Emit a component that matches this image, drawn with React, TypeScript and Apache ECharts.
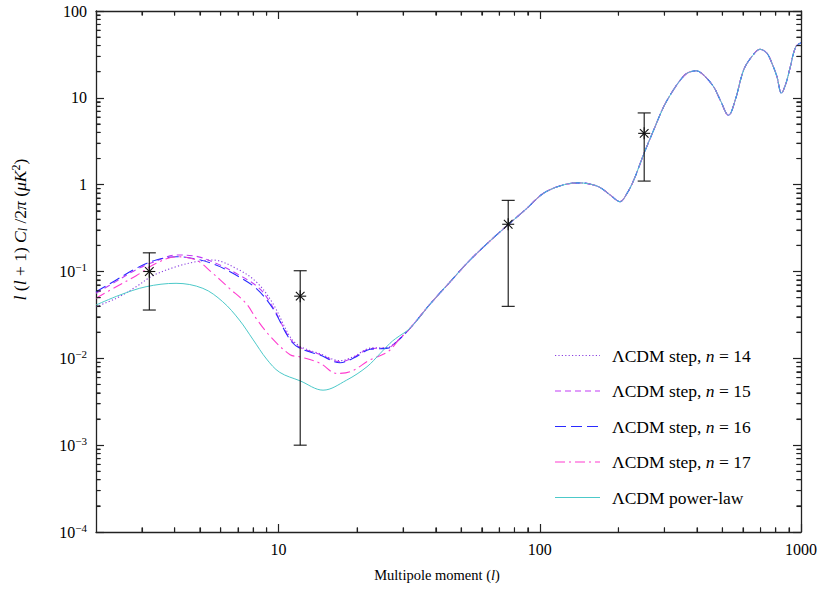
import React, { useEffect, useRef } from "react";
import * as echarts from "echarts";

const SERIF = "Liberation Serif";

// Shared high-l part of all model curves [l, l(l+1)Cl/2pi]
const commonHighL: number[][] = [
  [32, 0.0225], [38, 0.042], [45, 0.074], [54, 0.135], [65, 0.23], [76, 0.35],
  [89, 0.53], [103, 0.79], [120, 0.97], [139, 1.05], [155, 1.02], [170, 0.93],
  [186, 0.76], [203, 0.637], [215, 0.78], [229, 1.13], [250, 2.25], [275, 4.5],
  [298, 7.9], [320, 11.5], [345, 16], [365, 19.1], [397, 20.5], [424, 18.3],
  [463, 13.4], [491, 9.4], [528, 6.3], [560, 9.4], [603, 20.9], [648, 29.8],
  [698, 36.2], [741, 32.6], [774, 25], [809, 17.5], [841, 11.3], [876, 14.7],
  [910, 22.8], [955, 38.8], [1000, 43],
];

const n14Low: number[][] = [
  [2, 0.0393], [2.39, 0.0491], [2.85, 0.0668], [3.3, 0.0894], [4.05, 0.1135],
  [4.83, 0.1296], [5.6, 0.1356], [6.87, 0.1088], [8.2, 0.0763], [9.5, 0.043],
  [11.07, 0.0177], [12.1, 0.0137], [14.4, 0.0113], [17.2, 0.0094], [19.3, 0.0104],
  [22.4, 0.0131], [26.2, 0.0134], [28, 0.0152],
];
const n15Low: number[][] = [
  [2, 0.0561], [2.39, 0.077], [2.85, 0.105], [3.4, 0.132], [4.05, 0.1548],
  [4.83, 0.15], [5.76, 0.1242], [6.87, 0.0953], [8.44, 0.064], [9.5, 0.039],
  [11.07, 0.0168], [12.1, 0.0133], [14.4, 0.0111], [17.2, 0.0091], [19.3, 0.0102],
  [22.4, 0.0129], [26.2, 0.0132], [28, 0.0151],
];
const n16Low: number[][] = [
  [2, 0.0585], [2.39, 0.0798], [2.85, 0.1088], [3.4, 0.1356], [4.05, 0.148],
  [4.83, 0.1393], [5.76, 0.1188], [6.87, 0.0911], [8.2, 0.064], [9.5, 0.0377],
  [11.07, 0.0163], [12.1, 0.013], [14.4, 0.0109], [17.2, 0.0089], [19.3, 0.01],
  [22.4, 0.0127], [26.2, 0.0131], [28, 0.015],
];
const n17Low: number[][] = [
  [2, 0.0491], [2.39, 0.0668], [2.85, 0.0894], [3.4, 0.1242], [4.05, 0.148],
  [4.83, 0.1356], [5.51, 0.0995], [6.48, 0.064], [7.51, 0.043], [8.2, 0.0289],
  [9.28, 0.018], [11.07, 0.011], [12.1, 0.0104], [14.4, 0.0088], [16.7, 0.0067],
  [18.8, 0.007], [22.4, 0.0096], [26.2, 0.0119], [29.2, 0.017],
];
const powerLawLow: number[][] = [
  [2, 0.0411], [2.47, 0.0536], [3.11, 0.0668], [4.05, 0.0731], [5.13, 0.064],
  [6.11, 0.0449], [7.08, 0.0276], [8.0, 0.0163], [9.0, 0.0098], [10.1, 0.0069],
  [12.1, 0.0055], [14.8, 0.0043], [18.2, 0.0056], [21.8, 0.008], [24.5, 0.0114],
  [26.7, 0.0149], [28, 0.0168],
];

// Measured points: [l, value, lower, upper]
const measurements: number[][] = [
  [3.2, 0.1, 0.036, 0.164],
  [12.1, 0.052, 0.001, 0.102],
  [75.7, 0.35, 0.0397, 0.66],
  [251, 3.9, 1.1, 6.7],
];

const seriesNames = [
  "ΛCDM step, n = 14",
  "ΛCDM step, n = 15",
  "ΛCDM step, n = 16",
  "ΛCDM step, n = 17",
  "ΛCDM power-law",
];

const X_MIN = 2, X_MAX = 1000, Y_MIN = 1e-4, Y_MAX = 100;
const minorMultipliers = [2, 3, 4, 5, 6, 7, 8, 9];
const xDecades = [1, 10, 100];
const yDecades = [1e-4, 1e-3, 1e-2, 1e-1, 1, 10];

export default function App() {
  const ref = useRef<HTMLDivElement>(null);
  useEffect(() => {
    if (!ref.current) return;
    const chart = echarts.init(ref.current, null, { renderer: "svg" });

    const xMinor: number[] = [];
    xDecades.forEach((d) => minorMultipliers.forEach((m) => {
      const v = d * m;
      if (v > X_MIN && v < X_MAX) xMinor.push(v);
    }));
    const yMinor: number[] = [];
    yDecades.forEach((d) => minorMultipliers.forEach((m) => {
      const v = parseFloat((d * m).toPrecision(6));
      if (v > Y_MIN && v < Y_MAX) yMinor.push(v);
    }));

    const lineStyles: any[] = [
      { color: "#8a3fe0", width: 1.1, type: [1.2, 2.2] },
      { color: "#c23cf5", width: 1.1, type: [6, 4] },
      { color: "#2a2aff", width: 1.1, type: [11, 5] },
      { color: "#ff3ccf", width: 1.1, type: [10, 4, 2, 4] },
      { color: "#4cc9c9", width: 1, type: "solid" },
    ];
    const lows = [n14Low, n15Low, n16Low, n17Low, powerLawLow];

    const lineSeries = lows.map((low, i) => ({
      name: seriesNames[i],
      type: "line",
      xAxisIndex: 0,
      yAxisIndex: 0,
      data: [...low, ...commonHighL],
      symbol: "none",
      smooth: 0.35,
      lineStyle: lineStyles[i],
      itemStyle: { color: lineStyles[i].color },
      z: 3 + i,
    }));

    const majorAxis = {
      axisLine: { show: true, lineStyle: { color: "#222", width: 1.3 } },
      axisTick: { show: true, inside: true, length: 8, lineStyle: { color: "#222", width: 1.2 } },
      splitLine: { show: false },
      minorTick: { show: false },
    };
    const MINOR = 4.5;
    const minorAxis = (vals: number[]) => ({
      axisLine: { show: false },
      axisTick: { show: true, inside: true, length: MINOR, customValues: vals, lineStyle: { color: "#222", width: 1.1 } },
      axisLabel: { show: false },
      splitLine: { show: false },
      minorTick: { show: false },
    });

    const xBase = { type: "log", min: X_MIN, max: X_MAX, splitNumber: 3 };
    const yBase = { type: "log", min: Y_MIN, max: Y_MAX, splitNumber: 6 };

    chart.setOption({
      animation: false,
      backgroundColor: "#fff",
      grid: { left: 96, top: 11, right: 21, bottom: 59, containLabel: false },
      xAxis: [
        {
          ...xBase, position: "bottom", ...majorAxis,
          axisLabel: {
            show: true, margin: 9, color: "#000", fontFamily: SERIF, fontSize: 16,
            showMinLabel: false,
            formatter: (v: number) => {
              const e = Math.round(Math.log10(v));
              return Math.abs(Math.log10(v) - e) < 1e-6 ? String(Math.pow(10, e)) : "";
            },
          },
        },
        { ...xBase, position: "top", ...majorAxis, axisLabel: { show: false } },
        { ...xBase, position: "bottom", ...minorAxis(xMinor) },
        { ...xBase, position: "top", ...minorAxis(xMinor) },
      ],
      yAxis: [
        {
          ...yBase, position: "left", ...majorAxis,
          axisLabel: {
            show: true, margin: 9, color: "#000", fontFamily: SERIF, fontSize: 16,
            formatter: (v: number) => {
              const e = Math.round(Math.log10(v));
              if (e >= 0) return String(Math.pow(10, e));
              return "{b|10}{sup|−" + String(-e) + "}";
            },
            rich: {
              b: { fontFamily: SERIF, fontSize: 16, color: "#000" },
              sup: { fontFamily: SERIF, fontSize: 11, color: "#000", padding: [0, 0, 9, 0] },
            },
          },
        },
        { ...yBase, position: "right", ...majorAxis, axisLabel: { show: false } },
        { ...yBase, position: "left", ...minorAxis(yMinor) },
        { ...yBase, position: "right", ...minorAxis(yMinor) },
      ],
      legend: { show: false, data: seriesNames },
      series: [
        ...lineSeries,
        {
          type: "custom",
          name: "measurements",
          xAxisIndex: 0,
          yAxisIndex: 0,
          data: measurements,
          encode: { x: 0, y: 1 },
          z: 20,
          renderItem: (params: any, api: any) => {
            const l = api.value(0), v = api.value(1), lo = api.value(2), hi = api.value(3);
            const c = api.coord([l, v]);
            const t = api.coord([l, hi]);
            const b = api.coord([l, lo]);
            const st = { stroke: "#111", lineWidth: 1.1 };
            const cap = 6.5, a = 6, d = 4.3;
            return {
              type: "group",
              children: [
                { type: "line", shape: { x1: t[0], y1: t[1], x2: b[0], y2: b[1] }, style: st },
                { type: "line", shape: { x1: t[0] - cap, y1: t[1], x2: t[0] + cap, y2: t[1] }, style: st },
                { type: "line", shape: { x1: b[0] - cap, y1: b[1], x2: b[0] + cap, y2: b[1] }, style: st },
                { type: "line", shape: { x1: c[0] - a, y1: c[1], x2: c[0] + a, y2: c[1] }, style: st },
                { type: "line", shape: { x1: c[0] - d, y1: c[1] - d, x2: c[0] + d, y2: c[1] + d }, style: st },
                { type: "line", shape: { x1: c[0] - d, y1: c[1] + d, x2: c[0] + d, y2: c[1] - d }, style: st },
                { type: "line", shape: { x1: c[0], y1: c[1] - a, x2: c[0], y2: c[1] + a }, style: st },
              ],
            };
          },
        },
      ],
    });

    // Fallback minor ticks placed through the chart's own scales
    const finder = { xAxisIndex: 0, yAxisIndex: 0 };
    const px = (p: number[]) => chart.convertToPixel(finder, p) as unknown as number[];
    const tickStyle = { stroke: "#222", lineWidth: 1.1 };
    const ticks: any[] = [];
    const ok = (p: any) => Array.isArray(p) && isFinite(p[0]) && isFinite(p[1]);
    xMinor.forEach((v) => {
      const b = px([v, Y_MIN]);
      const t = px([v, Y_MAX]);
      if (ok(b)) ticks.push({ type: "line", z: 100, shape: { x1: b[0], y1: b[1], x2: b[0], y2: b[1] - MINOR }, style: { ...tickStyle } });
      if (ok(t)) ticks.push({ type: "line", z: 100, shape: { x1: t[0], y1: t[1], x2: t[0], y2: t[1] + MINOR }, style: { ...tickStyle } });
    });
    yMinor.forEach((v) => {
      const l = px([X_MIN, v]);
      const r = px([X_MAX, v]);
      if (ok(l)) ticks.push({ type: "line", z: 100, shape: { x1: l[0], y1: l[1], x2: l[0] + MINOR, y2: l[1] }, style: { ...tickStyle } });
      if (ok(r)) ticks.push({ type: "line", z: 100, shape: { x1: r[0], y1: r[1], x2: r[0] - MINOR, y2: r[1] }, style: { ...tickStyle } });
    });

    // Legend drawn as graphic
    const legendRows = [355.5, 391, 426.5, 462, 497.5];
    const legendItems: any[] = [];
    seriesNames.forEach((name, i) => {
      const y = legendRows[i];
      const ls = lineStyles[i];
      legendItems.push({
        type: "line",
        z: 100,
        shape: { x1: 555, y1: y, x2: 600, y2: y },
        style: { stroke: ls.color, lineWidth: ls.width + 0.1, lineDash: Array.isArray(ls.type) ? ls.type : null },
      });
      const m = name.match(/^(.*), n = (\d+)$/);
      const txt = m ? "{r|" + m[1] + ", }{i|n}{r| = " + m[2] + "}" : "{r|" + name + "}";
      legendItems.push({
        type: "text",
        z: 100,
        x: 612,
        y: y,
        style: {
          text: txt,
          align: "left",
          verticalAlign: "middle",
          fill: "#000",
          rich: {
            r: { fontFamily: SERIF, fontSize: 17.5, fill: "#000" },
            i: { fontFamily: SERIF, fontSize: 17.5, fontStyle: "italic", fill: "#000" },
          },
        },
      });
    });

    chart.setOption({
      graphic: [
        {
          type: "text",
          x: 20,
          y: 229.5,
          rotation: Math.PI / 2,
          style: {
            text: "{i|l}{r| (}{i|l}{r| + 1) }{i|C}{sub|l}{r| /2}{i|π}{r| (}{i|μK}{sup|2}{r|)}",
            align: "center",
            verticalAlign: "middle",
            fill: "#000",
            rich: {
              r: { fontFamily: SERIF, fontSize: 17.5, fill: "#000" },
              i: { fontFamily: SERIF, fontSize: 17.5, fontStyle: "italic", fill: "#000" },
              sub: { fontFamily: SERIF, fontSize: 12, fontStyle: "italic", fill: "#000", padding: [6, 0, 0, 0] },
              sup: { fontFamily: SERIF, fontSize: 12, fill: "#000", padding: [0, 0, 8, 0] },
            },
          },
        },
        {
          type: "text",
          x: 437,
          y: 575,
          style: {
            text: "{r|Multipole moment (}{i|l}{r|)}",
            align: "center",
            verticalAlign: "middle",
            fill: "#000",
            rich: {
              r: { fontFamily: SERIF, fontSize: 14.5, fill: "#000" },
              i: { fontFamily: SERIF, fontSize: 14.5, fontStyle: "italic", fill: "#000" },
            },
          },
        },
        ...legendItems,
        ...ticks,
      ],
    });
    return () => chart.dispose();
  }, []);

  return <div ref={ref} style={{ width: 822, height: 591, position: "absolute", left: 0, top: 0 }} />;
}
